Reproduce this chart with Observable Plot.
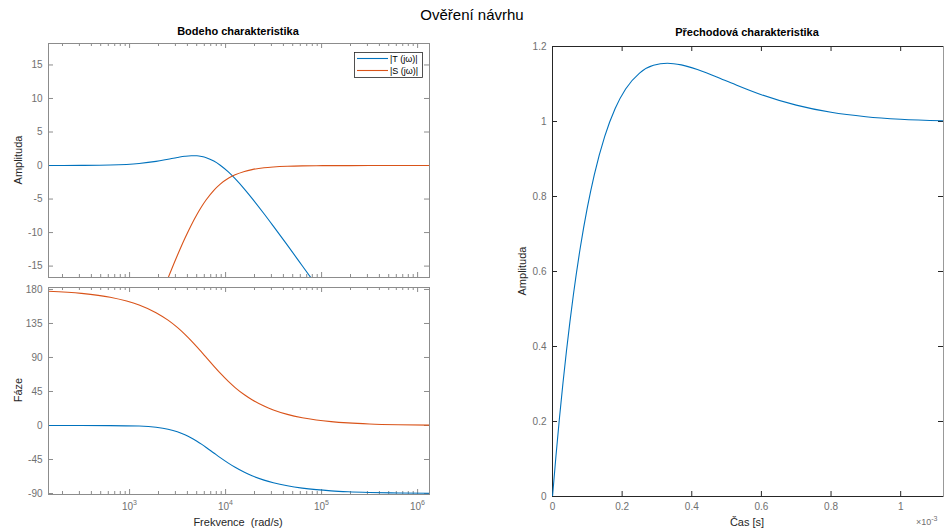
<!DOCTYPE html>
<html><head><meta charset="utf-8">
<script src="https://cdn.jsdelivr.net/npm/d3@7"></script>
<script src="https://cdn.jsdelivr.net/npm/@observablehq/plot@0.6"></script>
<style>
body{margin:0;background:#fff;}
#wrap{position:relative;width:944px;height:530px;overflow:hidden;font-family:"Liberation Sans",Arial,sans-serif;}
#wrap svg{position:absolute;}
</style></head><body><div id="wrap"></div>
<script>
// ---- data ----
const omega  = [143, 314, 628, 1257, 1885, 2513, 3142, 3770, 4398, 5027, 5655, 6283, 7540, 8796, 10681, 12566, 15708, 18850, 25133, 31416, 43982, 62832, 87965, 125664, 188496, 314159, 628319, 1332000];
const magT   = [0.00, 0.02, 0.08, 0.31, 0.62, 0.94, 1.20, 1.38, 1.46, 1.45, 1.34, 1.17, 0.67, 0.05, -0.96, -1.97, -3.52, -4.90, -7.19, -9.04, -11.88, -14.94, -17.84, -20.93, -24.44, -28.88, -34.90, -41.40];
const magS   = [-65.7, -52.0, -40.05, -28.18, -21.41, -16.80, -13.42, -10.85, -8.86, -7.31, -6.08, -5.11, -3.70, -2.77, -1.90, -1.38, -0.88, -0.61, -0.34, -0.22, -0.11, -0.05, -0.03, -0.01, -0.01, 0.00, 0.00, 0.00];
const phaseT = [0.00, -0.01, -0.10, -0.76, -2.32, -4.85, -8.21, -12.15, -16.40, -20.74, -25.00, -29.06, -36.36, -42.50, -49.80, -55.33, -61.93, -66.47, -72.27, -75.78, -79.83, -82.88, -84.91, -86.44, -87.62, -88.57, -89.29, -89.66];
const phaseS = [177.65, 174.85, 169.70, 159.44, 149.32, 139.40, 129.81, 120.65, 112.04, 104.04, 96.69, 90.00, 78.49, 69.15, 58.30, 50.19, 40.60, 34.02, 25.64, 20.56, 14.71, 10.31, 7.36, 5.16, 3.44, 2.06, 1.03, 0.49];

const stepT = [0, 0.01, 0.02, 0.03, 0.04, 0.05, 0.06, 0.08, 0.1, 0.12, 0.15, 0.18, 0.21, 0.25, 0.29, 0.33, 0.37, 0.42, 0.5, 0.6, 0.7, 0.8, 0.9, 1.0, 1.123]; // ms
const stepY = [0, 0.1088, 0.2092, 0.3019, 0.3873, 0.4658, 0.5379, 0.6646, 0.7703, 0.8579, 0.9605, 1.0348, 1.0866, 1.1292, 1.1498, 1.1553, 1.1509, 1.1374, 1.1078, 1.0716, 1.0436, 1.0245, 1.0128, 1.0061, 1.0020];

const decadeTicks = [1e3, 1e4, 1e5, 1e6];
const decadeExps = ["3", "4", "5", "6"];
const minorTicks = [200,300,400,500,600,700,800,900,2e3,3e3,4e3,5e3,6e3,7e3,8e3,9e3,2e4,3e4,4e4,5e4,6e4,7e4,8e4,9e4,2e5,3e5,4e5,5e5,6e5,7e5,8e5,9e5];
const magTicks = [-15, -10, -5, 0, 5, 10, 15];
const phaseTicks = [-90, -45, 0, 45, 90, 135, 180];
const stepXTicks = [0, 0.2, 0.4, 0.6, 0.8, 1];
const stepXLabels = ["0", "0.2", "0.4", "0.6", "0.8", "1"];
const stepYTicks = [0, 0.2, 0.4, 0.6, 0.8, 1, 1.2];
const stepYLabels = ["0", "0.2", "0.4", "0.6", "0.8", "1", "1.2"];
const seriesNames = ["|T (jω)|", "|S (jω)|"];
const colors = ["#0072BD", "#D95319"];

// ---- build ----
const bode = omega.map((w, i) => ({w, magT: magT[i], magS: magS[i], phT: phaseT[i], phS: phaseS[i]}));
const step = stepT.map((t, i) => ({t, y: stepY[i]}));
const decades = decadeTicks.map((v, i) => ({v, exp: decadeExps[i]}));

const wrap = document.getElementById("wrap");
const style = {fontFamily: "Liberation Sans, Arial, sans-serif", fontSize: "10px", background: "transparent", overflow: "visible"};
function place(svg, left, top) { svg.style.left = left + "px"; svg.style.top = top + "px"; wrap.appendChild(svg); }

const gridCol = "#8c8c8c", labCol = "#707070";
const xLogDomain = [143, 1.33e6];

function logTicks(fh) {
  return [
    Plot.tickX(decadeTicks, {x: d => d, stroke: gridCol, insetTop: fh - 5}),
    Plot.tickX(decadeTicks, {x: d => d, stroke: gridCol, insetBottom: fh - 5}),
    Plot.tickX(minorTicks, {x: d => d, stroke: gridCol, insetTop: fh - 3}),
    Plot.tickX(minorTicks, {x: d => d, stroke: gridCol, insetBottom: fh - 3})
  ];
}
function yTicks(ticks, fw, col) {
  return [
    Plot.tickY(ticks, {y: d => d, stroke: col, insetRight: fw - 5}),
    Plot.tickY(ticks, {y: d => d, stroke: col, insetLeft: fw - 5})
  ];
}

// Plot A: magnitude
{
  const W = 450, H = 290, mt = 43, mb = 13, ml = 48, mr = 21;
  const fh = H - mt - mb, fw = W - ml - mr;
  const p = Plot.plot({
    width: W, height: H, marginTop: mt, marginBottom: mb, marginLeft: ml, marginRight: mr,
    style,
    x: {type: "log", domain: xLogDomain, axis: null},
    y: {domain: [-16.7, 18.2]},
    marks: [
      ...logTicks(fh),
      ...yTicks(magTicks, fw, gridCol),
      Plot.axisY(magTicks, {tickSize: 0, tickPadding: 6, color: labCol, fontSize: 10, label: null, tickFormat: d => String(d)}),
      Plot.line(bode, {x: "w", y: "magT", stroke: colors[0], strokeWidth: 1.1, curve: "monotone-x", clip: true}),
      Plot.line(bode, {x: "w", y: "magS", stroke: colors[1], strokeWidth: 1.1, curve: "monotone-x", clip: true}),
      Plot.frame({stroke: gridCol})
    ]
  });
  place(p, 0, 0);
}

// Plot B: phase
{
  const W = 450, H = 250, mt = 7, mb = 36, ml = 48, mr = 21;
  const fh = H - mt - mb, fw = W - ml - mr;
  const p = Plot.plot({
    width: W, height: H, marginTop: mt, marginBottom: mb, marginLeft: ml, marginRight: mr,
    style,
    x: {type: "log", domain: xLogDomain, axis: null},
    y: {domain: [-91.3, 182.6]},
    marks: [
      ...logTicks(fh),
      ...yTicks(phaseTicks, fw, gridCol),
      Plot.axisY(phaseTicks, {tickSize: 0, tickPadding: 6, color: labCol, fontSize: 10, label: null, tickFormat: d => String(d)}),
      Plot.text(decades, {x: "v", text: () => "10", frameAnchor: "bottom", dy: 15, dx: -2, fill: labCol, fontSize: 10}),
      Plot.text(decades, {x: "v", text: "exp", frameAnchor: "bottom", dy: 10, dx: 3.5, textAnchor: "start", fill: labCol, fontSize: 7}),
      Plot.line(bode, {x: "w", y: "phT", stroke: colors[0], strokeWidth: 1.1, curve: "monotone-x", clip: true}),
      Plot.line(bode, {x: "w", y: "phS", stroke: colors[1], strokeWidth: 1.1, curve: "monotone-x", clip: true}),
      Plot.frame({stroke: gridCol})
    ]
  });
  place(p, 0, 280);
}

// Plot C: step response
{
  const W = 444, H = 530, mt = 46, mb = 34, ml = 52, mr = 1;
  const fh = H - mt - mb, fw = W - ml - mr;
  const dark = "#262626";
  const p = Plot.plot({
    width: W, height: H, marginTop: mt, marginBottom: mb, marginLeft: ml, marginRight: mr,
    style,
    x: {domain: [0, 1.123]},
    y: {domain: [0, 1.2]},
    marks: [
      Plot.tickX(stepXTicks, {x: d => d, stroke: dark, insetTop: fh - 5}),
      Plot.tickX(stepXTicks, {x: d => d, stroke: dark, insetBottom: fh - 5}),
      ...yTicks(stepYTicks, fw, dark),
      Plot.axisY(stepYTicks, {tickSize: 0, tickPadding: 6, color: labCol, fontSize: 10, label: null, tickFormat: (d, i) => stepYLabels[i]}),
      Plot.axisX(stepXTicks, {tickSize: 0, tickPadding: 6, color: labCol, fontSize: 10, label: null, tickFormat: (d, i) => stepXLabels[i]}),
      Plot.frame({stroke: "#999"}),
      Plot.ruleX([0], {stroke: dark}),
      Plot.ruleY([0], {stroke: dark}),
      Plot.ruleY([1.2], {stroke: dark}),
      Plot.line(step, {x: "t", y: "y", stroke: colors[0], strokeWidth: 1.1, curve: "monotone-x", clip: true})
    ]
  });
  place(p, 500, 0);
}

// Overlay: titles, labels, legend
{
  const svg = d3.create("svg").attr("width", 944).attr("height", 530)
    .style("font-family", "Liberation Sans, Arial, sans-serif").style("overflow", "visible");
  const txt = (x, y, s, size, opts = {}) => {
    const t = svg.append("text").attr("x", x).attr("y", y).attr("font-size", size)
      .attr("text-anchor", opts.anchor || "middle").attr("fill", opts.fill || "#262626")
      .style("white-space", "pre").text(s);
    if (opts.bold) t.attr("font-weight", "bold");
    if (opts.rot) t.attr("transform", `rotate(-90 ${x} ${y})`);
    return t;
  };
  txt(472, 20, "Ověření návrhu", 15, {fill: "#000"});
  txt(238, 35, "Bodeho charakteristika", 11, {bold: true, fill: "#000"});
  txt(747, 36, "Přechodová charakteristika", 11, {bold: true, fill: "#000"});
  txt(22, 160, "Amplituda", 11, {rot: true});
  txt(22, 390, "Fáze", 11, {rot: true});
  txt(526, 271, "Amplituda", 11, {rot: true});
  txt(238, 526, "Frekvence  (rad/s)", 11);
  txt(747, 526, "Čas [s]", 11);
  const e = svg.append("text").attr("x", 916).attr("y", 525).attr("font-size", 9).attr("fill", labCol);
  e.append("tspan").text("×10");
  e.append("tspan").attr("dy", -4).attr("font-size", 7).text("-3");

  // legend
  const lg = svg.append("g");
  lg.append("rect").attr("x", 354.5).attr("y", 52.5).attr("width", 68).attr("height", 25)
    .attr("fill", "#fff").attr("stroke", "#262626").attr("stroke-width", 0.8);
  seriesNames.forEach((name, i) => {
    const y = 58.5 + i * 12;
    lg.append("line").attr("x1", 357).attr("x2", 388).attr("y1", y).attr("y2", y)
      .attr("stroke", colors[i]).attr("stroke-width", 1.1);
    lg.append("text").attr("x", 390).attr("y", y + 3.2).attr("font-size", 9).attr("fill", "#000").text(name);
  });
  place(svg.node(), 0, 0);
}
</script></body></html>
